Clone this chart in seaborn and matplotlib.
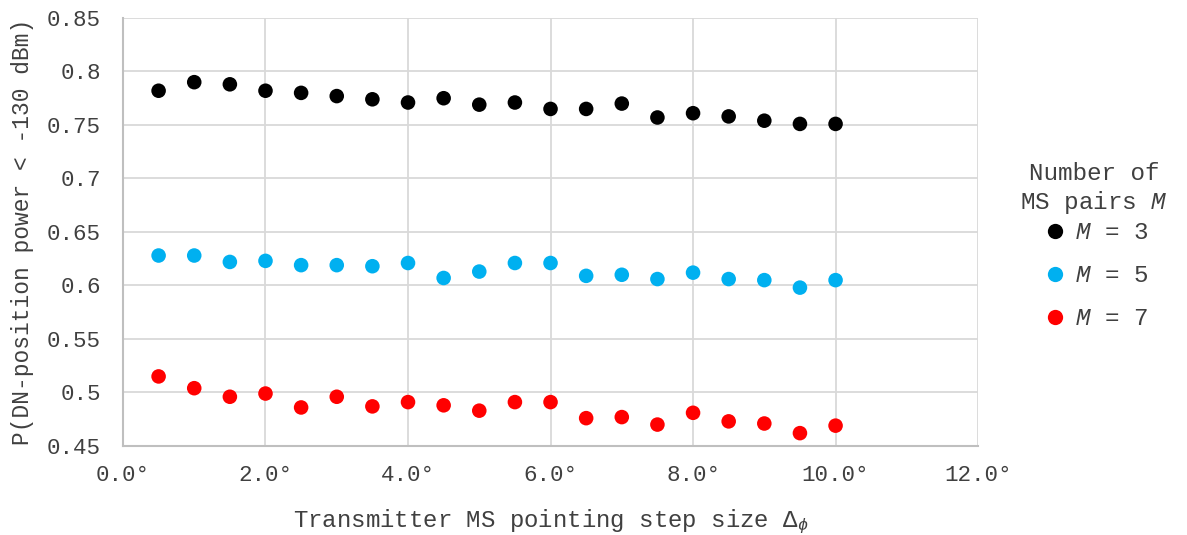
import matplotlib
matplotlib.use("Agg")
import matplotlib.pyplot as plt
import seaborn as sns
import pandas as pd
from matplotlib.lines import Line2D

step = [0.5, 1.0, 1.5, 2.0, 2.5, 3.0, 3.5, 4.0, 4.5, 5.0,
        5.5, 6.0, 6.5, 7.0, 7.5, 8.0, 8.5, 9.0, 9.5, 10.0]
m3 = [0.782, 0.790, 0.788, 0.782, 0.780, 0.777, 0.774, 0.771, 0.775, 0.769,
      0.771, 0.765, 0.765, 0.770, 0.757, 0.761, 0.758, 0.754, 0.751, 0.751]
m5 = [0.628, 0.628, 0.622, 0.623, 0.619, 0.619, 0.618, 0.621, 0.607, 0.613,
      0.621, 0.621, 0.609, 0.610, 0.606, 0.612, 0.606, 0.605, 0.598, 0.605]
m7 = [0.515, 0.504, 0.496, 0.499, 0.486, 0.496, 0.487, 0.491, 0.488, 0.483,
      0.491, 0.491, 0.476, 0.477, 0.470, 0.481, 0.473, 0.471, 0.462, 0.469]
series_labels = ["$M$ = 3", "$M$ = 5", "$M$ = 7"]
x_ticks = [0, 2, 4, 6, 8, 10, 12]
x_tick_labels = ["0.0°", "2.0°", "4.0°", "6.0°", "8.0°", "10.0°", "12.0°"]
y_ticks = [0.45, 0.5, 0.55, 0.6, 0.65, 0.7, 0.75, 0.8, 0.85]
y_tick_labels = ["0.45", "0.5", "0.55", "0.6", "0.65", "0.7", "0.75", "0.8", "0.85"]
colors = ["#000000", "#00B0F0", "#FF0000"]

df = pd.concat([
    pd.DataFrame({"step": step, "p": vals, "series": lab})
    for vals, lab in zip([m3, m5, m7], series_labels)
])

sns.set_style("whitegrid")
plt.rcParams["font.family"] = ["Liberation Mono", "DejaVu Sans"]
plt.rcParams["mathtext.fontset"] = "custom"
plt.rcParams["mathtext.rm"] = "Liberation Mono"
plt.rcParams["mathtext.it"] = "Liberation Mono:italic"
plt.rcParams["mathtext.bf"] = "Liberation Mono:bold"

text_color = "#404040"
fig = plt.figure(figsize=(11.87, 5.35), dpi=100)
ax = fig.add_axes([0.1036, 0.1664, 0.7204, 0.800])

palette = dict(zip(series_labels, colors))
sns.scatterplot(data=df, x="step", y="p", hue="series", palette=palette,
                s=110, linewidth=0, ax=ax, legend=False, zorder=3)

ax.set_xlim(0, 12)
ax.set_ylim(0.45, 0.85)
ax.set_xticks(x_ticks)
ax.set_xticklabels(x_tick_labels, fontsize=16.2, color=text_color)
ax.set_yticks(y_ticks)
ax.set_yticklabels(y_tick_labels, fontsize=16.2, color=text_color)
ax.tick_params(axis="both", length=0)
ax.tick_params(axis="x", pad=14)
ax.tick_params(axis="y", pad=16)
ax.grid(True, color="#d9d9d9", linewidth=1.3)
for s in ["top", "right"]:
    ax.spines[s].set_visible(False)
for s in ["left", "bottom"]:
    ax.spines[s].set_color("#bfbfbf")
    ax.spines[s].set_linewidth(1.5)

ax.set_xlabel(r"Transmitter MS pointing step size $\Delta_\phi$", fontsize=17.3,
              color=text_color, labelpad=15)
ax.set_ylabel("P(DN-position power < -130 dBm)", fontsize=16.5, color=text_color,
              labelpad=9)

handles = [Line2D([0], [0], marker="o", linestyle="", markersize=11,
                  markerfacecolor=c, markeredgewidth=0) for c in colors]
leg = fig.legend(handles, series_labels, title="Number of\nMS pairs $M$",
                 loc="center", bbox_to_anchor=(0.922, 0.540), frameon=False,
                 fontsize=17.5, title_fontsize=17.5, labelspacing=0.82,
                 handletextpad=0.2, handlelength=1.2)
leg._legend_box.sep = 4
leg.get_title().set_multialignment("center")
leg.get_title().set_color(text_color)
for t in leg.get_texts():
    t.set_color(text_color)

fig.savefig("out.png", dpi=100, facecolor="white")
